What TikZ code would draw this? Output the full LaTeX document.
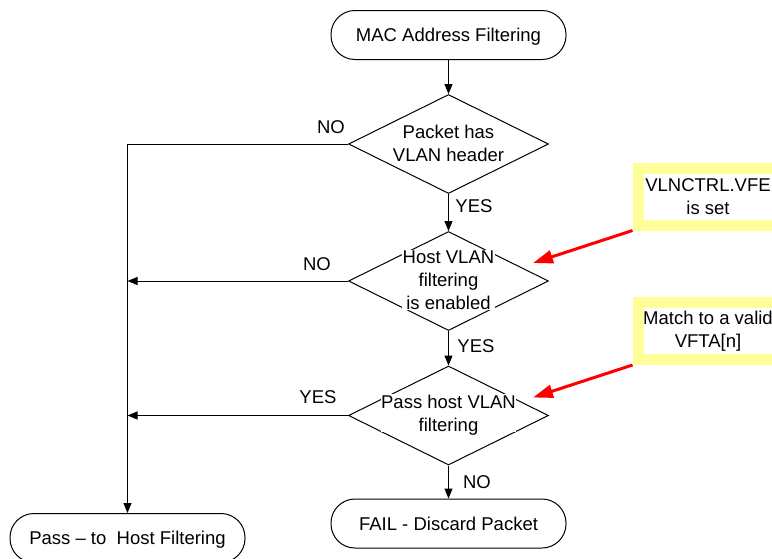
\documentclass[tikz,border=0pt]{standalone}
\usepackage{fontspec}
\setmainfont{Liberation Sans}
\usetikzlibrary{arrows.meta,shapes.geometric}
\definecolor{note-yellow}{RGB}{255,255,153}
\definecolor{hint-red}{RGB}{255,0,0}

\begin{document}
\begin{tikzpicture}[
    x=1pt, y=-1pt,
    font=\fontsize{18.5}{23}\selectfont,
    terminal/.style={rectangle,draw,line width=1pt,rounded corners=24pt,text depth=0pt,minimum width=235pt,minimum height=49pt},
    decision/.style={diamond,draw,line width=1pt,minimum width=200pt,minimum height=99pt,inner sep=0pt},
    question/.style={align=center,fill=white,inner sep=0.5pt},
    note/.style={rectangle,draw=note-yellow,line width=11pt,fill=white,align=center,minimum width=140pt,minimum height=57pt},
    flow/.style={draw,line width=1pt,-{Triangle[length=10pt,width=8pt]}},
    hint/.style={draw=hint-red,line width=3pt,-{Triangle[length=20pt,width=13pt]}}
]
\useasboundingbox (0,0) rectangle (772,558);
\clip (0,0) rectangle (772,558);

\node[terminal] (mac) at (448.5,35) {MAC Address Filtering};
\node[decision] (vlan) at (448.5,144) {};
\node[question] (vlan-text) at (448.5,143) {Packet has\\VLAN header};
\node[decision] (host) at (448.5,281) {};
\node[question] (host-text) at (448.5,280) {Host VLAN\\filtering\\is enabled};
\node[decision] (match) at (448.5,415.5) {};
\node[question,text depth=0pt] (match-text) at (448.5,413) {Pass host VLAN\\filtering};
\node[terminal] (fail) at (448.5,523.5) {FAIL - Discard Packet};
\node[terminal] (pass) at (127.5,538) {Pass -- to\ \ Host Filtering};

\node[note] (vfe-note) at (708,196.5) {VLNCTRL.VFE\\is set};
\node[note] (vfta-note) at (708,331) {Match to a valid\\VFTA[n]};

\draw[flow] (mac) -- (vlan.north);
\draw[flow] (vlan.south) -- (host.north);
\draw[flow] (host.south) -- (match.north);
\draw[flow] (match.south) -- (fail);
\draw[flow] (vlan.west) -| (pass.north);
\draw[flow] (host.west) -- (host.west -| pass.north);
\draw[flow] (match.west) -- (match.west -| pass.north);

\node (no-vlan) at (331,127) {NO};
\node (yes-vlan) at (474,206) {YES};
\node (no-host) at (317,264) {NO};
\node (yes-host) at (476,346) {YES};
\node (yes-match) at (318,397) {YES};
\node (no-match) at (477,482) {NO};

\coordinate (host-tip) at (533,263);
\coordinate (match-tip) at (533,397.5);
\draw[hint] (vfe-note.south west) -- (host-tip);
\draw[hint] (vfta-note.south west) -- (match-tip);
\end{tikzpicture}
\end{document}
